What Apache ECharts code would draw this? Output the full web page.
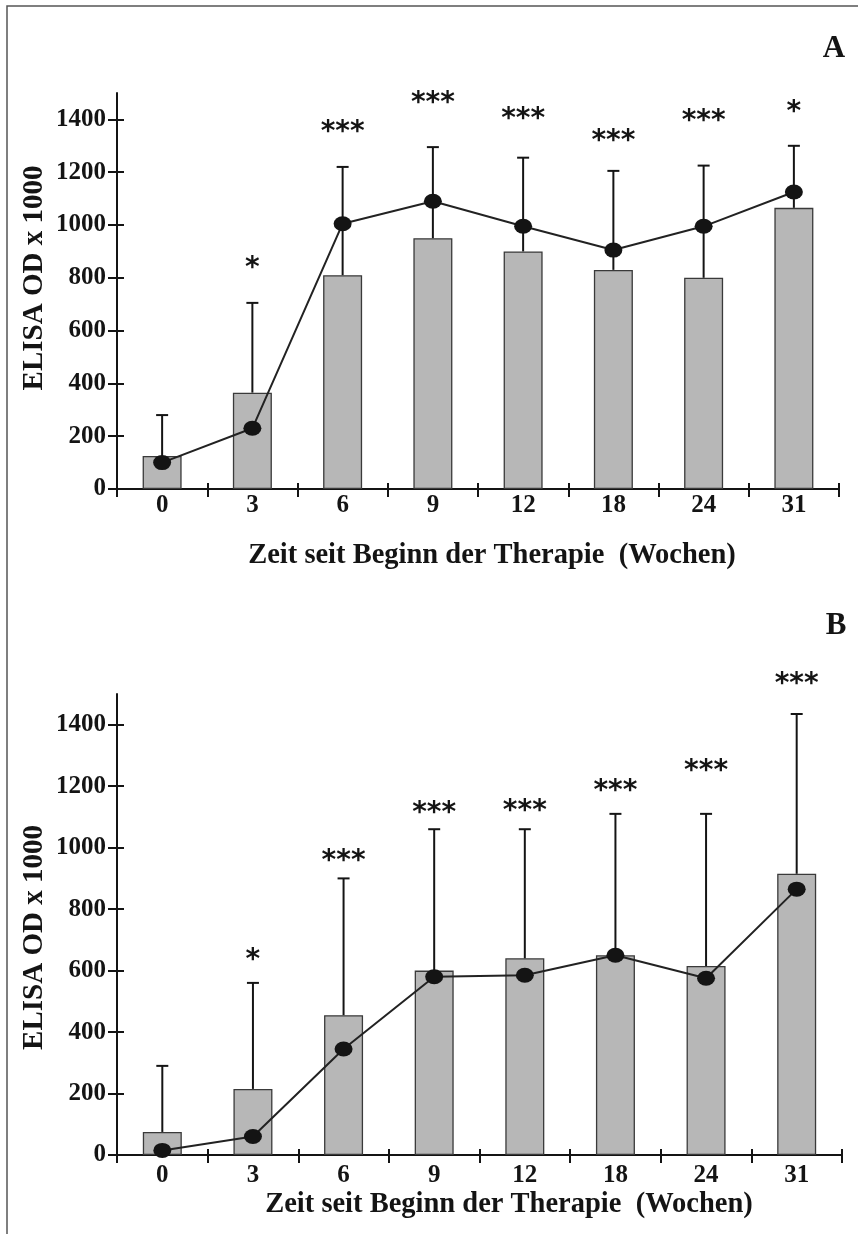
<!DOCTYPE html>
<html>
<head>
<meta charset="utf-8">
<script src="https://cdn.jsdelivr.net/npm/echarts@6/dist/echarts.min.js"></script>
<style>
html,body{margin:0;padding:0;background:#fff;}
#chart{width:858px;height:1234px;}
</style>
</head>
<body>
<div id="chart"></div>
<script>
// ---- data ----
const categories = ['0', '3', '6', '9', '12', '18', '24', '31'];
const yTicks = [0, 200, 400, 600, 800, 1000, 1200, 1400];

// Panel A
const barA   = [125, 365, 810, 950, 900, 830, 800, 1065];
const errTopA = [280, 705, 1220, 1295, 1255, 1205, 1225, 1300];
const lineA  = [100, 230, 1005, 1090, 995, 905, 995, 1125];
const starsA = ['', '*', '***', '***', '***', '***', '***', '*'];
const starPosA = [null, 852, 1367, 1480, 1416, 1333, 1409, 1443];

// Panel B
const barB   = [75, 215, 455, 600, 640, 650, 615, 915];
const errTopB = [290, 560, 900, 1060, 1060, 1110, 1110, 1435];
const lineB  = [15, 60, 345, 580, 585, 650, 575, 865];
const starsB = ['', '*', '***', '***', '***', '***', '***', '***'];
const starPosB = [null, 650, 969, 1128, 1132, 1197, 1262, 1545];

const yTitle = 'ELISA OD x 1000';
const xTitle = 'Zeit seit Beginn der Therapie  (Wochen)';

// ---- chart ----
const FONT = '"Liberation Serif", "Times New Roman", serif';
const STARFONT = '"DejaVu Sans", sans-serif';
const INK = '#141414';
const chart = echarts.init(document.getElementById('chart'), null, {renderer: 'canvas'});

function mainX(gridIndex, labelMargin, nameGap, namePad) {
  return {
    type: 'category', gridIndex, data: categories, position: 'bottom',
    boundaryGap: true,
    axisLine: {show: true, lineStyle: {color: INK, width: 2}},
    axisTick: {show: true, inside: false, length: 8, alignWithLabel: false, lineStyle: {color: INK, width: 2}},
    axisLabel: {show: true, margin: labelMargin, color: INK, fontFamily: FONT, fontWeight: 'bold', fontSize: 25},
    name: xTitle, nameLocation: 'middle', nameGap: nameGap, nameMoveOverlap: false,
    nameTextStyle: {color: INK, fontFamily: FONT, fontWeight: 'bold', fontSize: 28.5, padding: namePad},
    splitLine: {show: false}
  };
}
function innerX(gridIndex) {
  return {
    type: 'category', gridIndex, data: categories, position: 'bottom',
    boundaryGap: true,
    axisLine: {show: false},
    axisTick: {show: true, inside: true, length: 6, lineStyle: {color: INK, width: 2}},
    axisLabel: {show: false}, splitLine: {show: false}
  };
}
function mainY(gridIndex, namePad) {
  return {
    type: 'value', gridIndex, min: 0, max: 1500, position: 'left',
    axisLine: {show: true, lineStyle: {color: INK, width: 2}},
    axisTick: {show: true, inside: false, length: 9, customValues: yTicks, lineStyle: {color: INK, width: 2}},
    axisLabel: {show: true, margin: 11, customValues: yTicks, formatter: v => String(v),
      color: INK, fontFamily: FONT, fontWeight: 'bold', fontSize: 25},
    splitLine: {show: false},
    name: yTitle, nameLocation: 'middle', nameGap: 68, nameRotate: 90, nameMoveOverlap: false,
    nameTextStyle: {color: INK, fontFamily: FONT, fontWeight: 'bold', fontSize: 29, padding: namePad}
  };
}
function innerY(gridIndex) {
  return {
    type: 'value', gridIndex, min: 0, max: 1500, position: 'left',
    axisLine: {show: false},
    axisTick: {show: true, inside: true, length: 7, customValues: yTicks, lineStyle: {color: INK, width: 2}},
    axisLabel: {show: false, customValues: yTicks}, splitLine: {show: false}
  };
}

function barSeries(ax, data) {
  return {
    type: 'bar', xAxisIndex: ax, yAxisIndex: ax, data: data, barWidth: 39,
    itemStyle: {color: '#b7b7b7', borderColor: '#3a3a3a', borderWidth: 1.3},
    z: 2, silent: true
  };
}
function errSeries(ax, bars, tops) {
  return {
    type: 'custom', xAxisIndex: ax, yAxisIndex: ax, z: 3, silent: true,
    encode: {x: 0, y: [1, 2]},
    data: bars.map((b, i) => [i, b, tops[i]]),
    renderItem: function (params, api) {
      const i = api.value(0);
      const p1 = api.coord([i, api.value(1)]);
      const p2 = api.coord([i, api.value(2)]);
      return {
        type: 'group',
        children: [
          {type: 'line', shape: {x1: p1[0], y1: p1[1], x2: p2[0], y2: p2[1]}, style: {stroke: INK, lineWidth: 2}},
          {type: 'line', shape: {x1: p2[0] - 6, y1: p2[1], x2: p2[0] + 6, y2: p2[1]}, style: {stroke: INK, lineWidth: 2}}
        ]
      };
    }
  };
}
function lineSeries(ax, data) {
  return {
    type: 'line', xAxisIndex: ax, yAxisIndex: ax, data: data, z: 5, silent: true,
    symbol: 'circle', symbolSize: [18, 15], showSymbol: true,
    itemStyle: {color: INK, borderWidth: 0},
    lineStyle: {color: '#222', width: 2}
  };
}
function starSeries(ax, stars, pos) {
  const d = [];
  stars.forEach((s, i) => { if (s) d.push([i, pos[i]]); });
  return {
    type: 'custom', xAxisIndex: ax, yAxisIndex: ax, z: 6, silent: true, clip: false,
    encode: {x: 0, y: 1},
    data: d,
    renderItem: function (params, api) {
      const i = api.value(0);
      const p = api.coord([i, api.value(1)]);
      return {
        type: 'text', x: p[0], y: p[1] + 5,
        style: {text: stars[i], font: 'bold 28px ' + STARFONT, align: 'center', verticalAlign: 'middle', fill: INK}
      };
    }
  };
}

const option = {
  animation: false,
  backgroundColor: '#ffffff',
  grid: [
    {left: 117, right: 19, top: 93, bottom: 745, containLabel: false},
    {left: 117, right: 16, top: 694, bottom: 79, containLabel: false}
  ],
  xAxis: [mainX(0, 4, 52, [0, 0, 0, 28]), innerX(0), mainX(1, 8, 35, [0, 0, 0, 59]), innerX(1)],
  yAxis: [mainY(0, [0, 0, 0, 26]), innerY(0), mainY(1, [0, 26, 0, 0]), innerY(1)],
  series: [
    barSeries(0, barA), errSeries(0, barA, errTopA), lineSeries(0, lineA), starSeries(0, starsA, starPosA),
    barSeries(2, barB), errSeries(2, barB, errTopB), lineSeries(2, lineB), starSeries(2, starsB, starPosB)
  ],
  graphic: [
    {type: 'rect', x: 7, y: 6, shape: {x: 0, y: 0, width: 900, height: 1300}, style: {fill: 'none', stroke: '#555', lineWidth: 1.5}, silent: true},
    {type: 'text', x: 834, y: 49, style: {text: 'A', font: 'bold 31px ' + FONT, align: 'center', verticalAlign: 'middle', fill: INK}},
    {type: 'text', x: 836, y: 626, style: {text: 'B', font: 'bold 31px ' + FONT, align: 'center', verticalAlign: 'middle', fill: INK}}
  ]
};
chart.setOption(option);
</script>
</body>
</html>
